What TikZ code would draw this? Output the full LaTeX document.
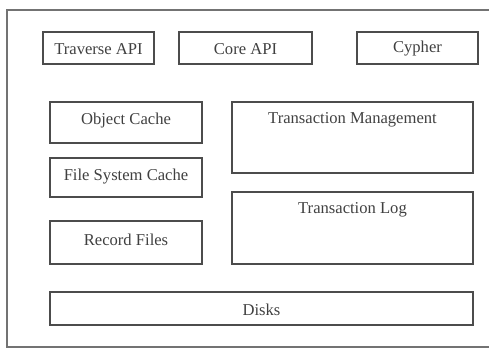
\documentclass[tikz,border=0pt]{standalone}
\usepackage{fontspec}
\setmainfont{Liberation Serif}
\begin{document}
\begin{tikzpicture}[x=1pt,y=-1pt,
  blk/.style={draw=black!70, line width=1.3pt},
  lbl/.style={font=\rmfamily\fontsize{16.6}{19}\selectfont, text=black!75, inner sep=0pt},
  frame/.style={draw=black!55, line width=1.4pt}]
\useasboundingbox (0,0) rectangle (489,350);
\begin{scope}
\clip (0,0) rectangle (489,350);
\draw[frame] (7,10) rectangle (500,347);
\end{scope}
% top row
\draw[blk] (43,32) rectangle (154,64);
\node[lbl] (trav) at (98.5,49) {Traverse API};
\draw[blk] (179,32) rectangle (312,64);
\node[lbl] (core) at (245.5,49) {Core API};
\draw[blk] (357,32) rectangle (478,64);
\node[lbl] (cyph) at (417.5,49) {Cypher};
% left column
\draw[blk] (50,102) rectangle (202,143);
\node[lbl] (obj) at (126,121) {Object Cache};
\draw[blk] (50,158) rectangle (202,197);
\node[lbl] (fsc) at (126,177) {File System Cache};
\draw[blk] (50,221) rectangle (202,264);
\node[lbl] (rec) at (126,240) {Record Files};
% right column
\draw[blk] (232,102) rectangle (473,173);
\node[lbl] (tm) at (352.5,120) {Transaction Management};
\draw[blk] (232,192) rectangle (473,264);
\node[lbl] (tl) at (352.5,210) {Transaction Log};
% disks
\draw[blk] (50,292) rectangle (473,325);
\node[lbl] (disk) at (261.5,310) {Disks};
\end{tikzpicture}
\end{document}
